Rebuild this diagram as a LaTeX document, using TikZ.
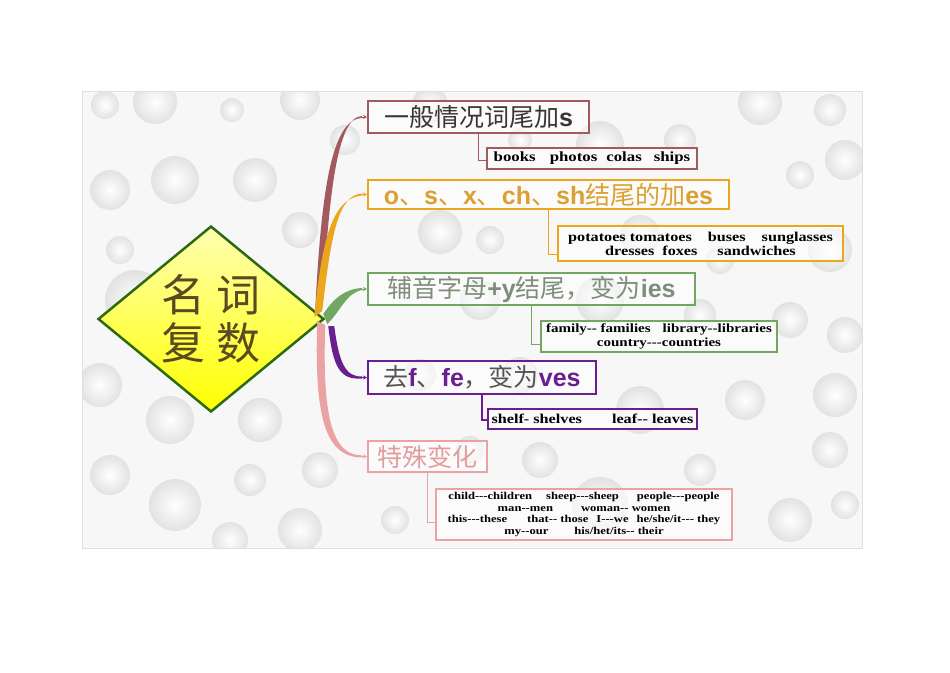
\documentclass[tikz,border=0pt]{standalone}
\usepackage{fontspec}
\setmainfont{Liberation Serif}
\newfontfamily\cjk{Noto Sans CJK SC}
\newfontfamily\lat{Liberation Sans}
\newfontfamily\subf{Liberation Serif}[FakeStretch=1.2]
\usetikzlibrary{shapes.geometric,calc,arrows.meta}
\definecolor{bgc}{HTML}{F7F7F7}
\definecolor{brc}{HTML}{A25A5E}
\definecolor{org}{HTML}{EBA61C}
\definecolor{orgt}{HTML}{DBA030}
\definecolor{grn}{HTML}{72A663}
\definecolor{grnt}{HTML}{7E8E7A}
\definecolor{pur}{HTML}{6A1F8F}
\definecolor{pnk}{HTML}{EBA2A2}
\definecolor{pnkt}{HTML}{E39C9C}
\definecolor{dgrn}{HTML}{2C6A12}
\definecolor{dtxt}{HTML}{5A4A22}
\definecolor{tx1}{HTML}{3C3434}
\definecolor{tx4}{HTML}{555555}
\definecolor{bub}{HTML}{E2E2E2}
\begin{document}
\begin{tikzpicture}[x=1pt,y=-1pt,
  mainbox/.style={draw, line width=2.4pt, fill=white, fill opacity=0.55, text opacity=1,
    inner sep=0pt, anchor=north west, font=\cjk\fontsize{25}{28}\selectfont},
  subbox/.style={draw, line width=2.4pt, fill=white, fill opacity=0.6, text opacity=1,
    inner sep=0pt, anchor=north west, align=center, text=black,
    font=\subf\bfseries\fontsize{14}{15}\selectfont},
  link/.style={line width=1.4pt},
  tip/.style={line width=1pt, -{Stealth[length=4pt,width=4pt]}},
  bubble/.style={inner color=white, outer color=bub}
]
\useasboundingbox (0,0) rectangle (950,672);
\fill[white] (0,0) rectangle (950,672);
% background panel with bubbles
\fill[bgc] (82,91) rectangle (862,548);
\begin{scope}
\clip (82,91) rectangle (862,548);
\foreach \x/\y/\r in {105/105/14,155/102/22,232/110/12,300/100/20,345/140/15,430/105/18,
  520/140/12,600/145/24,680/140/16,760/103/22,830/110/16,845/160/20,800/175/14,
  110/190/20,175/180/24,255/180/22,300/230/18,120/250/14,440/232/22,490/240/14,
  640/235/20,720/260/14,830/250/22,135/300/30,270/305/16,480/300/20,600/300/24,
  700/315/16,790/320/18,845/335/18,100/385/22,170/420/24,260/420/22,420/375/16,
  520/375/18,640/410/24,745/400/20,835/395/22,830/450/18,110/475/20,175/505/26,
  250/480/16,320/470/18,300/530/22,230/540/18,395/520/14,600/505/28,700/470/16,
  790/520/22,845/505/14,540/460/18,470/450/14}
  \shade[bubble] (\x,\y) circle (\r pt);
\end{scope}
\draw[gray!25, line width=0.6pt] (82,91) rectangle (862,548);

% central diamond
\node[diamond, draw=dgrn, line width=2.5pt, top color=yellow!30!white, bottom color=yellow,
  middle color=yellow!65!white, minimum width=226pt, minimum height=186pt, aspect=1.2,
  inner sep=0pt, align=center, text=dtxt, font=\cjk\fontsize{44}{48}\selectfont]
  (d) at (211,319) {名\hspace{12pt}词\\复\hspace{12pt}数};

% main boxes
\node[mainbox, draw=brc, text=tx1, minimum width=220.6pt, minimum height=31.6pt]
  (b1) at (367,100) {一般情况词尾加{\lat\bfseries s}};
\node[mainbox, draw=org, text=orgt, minimum width=360.6pt, minimum height=28.6pt]
  (b2) at (367,179) {{\lat\bfseries o}、{\lat\bfseries s}、{\lat\bfseries x}、{\lat\bfseries ch}、{\lat\bfseries sh}结尾的加{\lat\bfseries es}};
\node[mainbox, draw=grn, text=grnt, minimum width=326.6pt, minimum height=31.6pt]
  (b3) at (367,272) {辅音字母{\lat\bfseries +y}结尾，变为{\lat\bfseries ies}};
\node[mainbox, draw=pur, text=tx4, minimum width=227.6pt, minimum height=32.6pt]
  (b4) at (367,360) {去{\color{pur}\lat\bfseries f}、{\color{pur}\lat\bfseries fe}，变为{\color{pur}\lat\bfseries ves}};
\node[mainbox, draw=pnk, text=pnkt, minimum width=118.6pt, minimum height=30.6pt]
  (b5) at (367,440) {特殊变化};

% sub boxes
\node[subbox, draw=brc, minimum width=209.6pt, minimum height=20.6pt]
  (s1) at (486,147) {books\hspace{14pt}photos\hspace{9pt}colas\hspace{12pt}ships};
\node[subbox, draw=org, minimum width=284.6pt, minimum height=34.6pt,
  font=\subf\bfseries\fontsize{13.5}{14}\selectfont]
  (s2) at (557,225) {potatoes tomatoes\hspace{16pt}buses\hspace{16pt}sunglasses\\
  dresses\hspace{8pt}foxes\hspace{20pt}sandwiches};
\node[subbox, draw=grn, minimum width=235.6pt, minimum height=30.6pt,
  font=\subf\bfseries\fontsize{12.5}{13.5}\selectfont]
  (s3) at (540,320) {family-- families\hspace{12pt}library--libraries\\country---countries};
\node[subbox, draw=pur, minimum width=208.6pt, minimum height=19.6pt,
  font=\subf\bfseries\fontsize{13.5}{15}\selectfont]
  (s4) at (487,408) {shelf- shelves\hspace{30pt}leaf-- leaves};
\node[subbox, draw=pnk, minimum width=295.6pt, minimum height=50.6pt,
  font=\subf\bfseries\fontsize{10.5}{11.7}\selectfont]
  (s5) at (435,488) {child---children\hspace{14pt}sheep---sheep\hspace{18pt}people---people\\
  man--men\hspace{28pt}woman-- women\\
  this---these\hspace{20pt}that-- those\hspace{8pt}I---we\hspace{8pt}he/she/it--- they\\
  my--our\hspace{26pt}his/het/its-- their};

% sub connectors
\draw[link, brc] (b1.south) |- ($(s1.west)+(0,2)$);
\draw[link, org] (b2.south) |- ($(s2.west)+(0,11)$);
\draw[link, grn] (b3.south) |- ($(s3.west)+(0,8)$);
\draw[link, pur] (b4.south) |- ($(s4.west)+(0,1)$);
\draw[link, pnk] (b5.south) |- ($(s5.west)+(0,8)$);

% main tapered connectors
\fill[brc] ($(d.east)+(-3,-14)$) .. controls (329,200) and (336,117) .. ($(b1.west)+(-5,-1)$)
  -- ($(b1.west)+(-5,1)$) .. controls (330,119) and (321,200) .. ($(d.east)+(-10,-10)$) -- cycle;
\fill[pnk] ($(d.east)+(-8,2)$) .. controls (314,420) and (326,457) .. ($(b5.west)+(-5,1)$)
  -- ($(b5.west)+(-5,-1)$) .. controls (333,455) and (322,420) .. ($(d.east)+(0,6)$) -- cycle;
\fill[org] ($(d.east)+(-3,-8)$) .. controls (331,235) and (338,195) .. ($(b2.west)+(-5,-1)$)
  -- ($(b2.west)+(-5,1)$) .. controls (332,198) and (322,240) .. ($(d.east)+(-11,-2)$) -- cycle;
\fill[pur] ($(d.east)+(3,7)$) .. controls (333,368) and (340,380) .. ($(b4.west)+(-5,1)$)
  -- ($(b4.west)+(-5,-1)$) .. controls (345,377) and (339,362) .. ($(d.east)+(9,7)$) -- cycle;
\fill[grn] ($(d.east)+(-2,-5)$) .. controls (334,298) and (345,289) .. ($(b3.west)+(-5,-1)$)
  -- ($(b3.west)+(-5,1)$) .. controls (346,293) and (340,312) .. ($(d.east)+(2,5)$) -- cycle;

% arrow tips into the boxes
\draw[tip, brc] ($(b1.west)+(-6,0)$) -- (b1.west);
\draw[tip, org] ($(b2.west)+(-6,0)$) -- (b2.west);
\draw[tip, grn] ($(b3.west)+(-6,0)$) -- (b3.west);
\draw[tip, pur] ($(b4.west)+(-6,0)$) -- (b4.west);
\draw[tip, pnk] ($(b5.west)+(-6,0)$) -- (b5.west);
\end{tikzpicture}
\end{document}
